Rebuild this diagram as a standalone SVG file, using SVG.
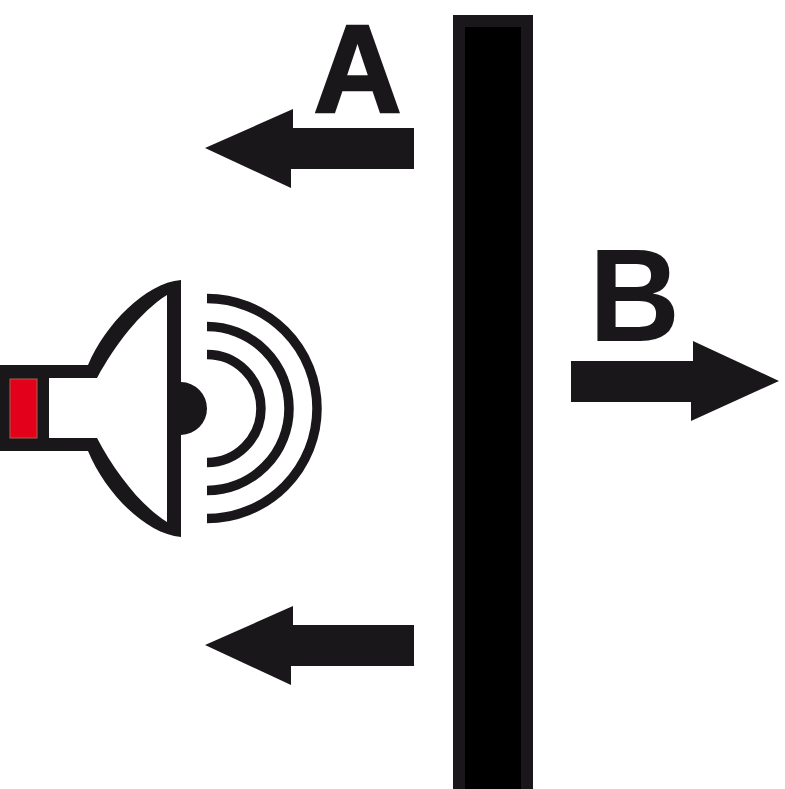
<svg xmlns="http://www.w3.org/2000/svg" width="785" height="789" viewBox="0 0 785 789">
<style>
.ink{fill:#1a171b}
.wave{fill:none;stroke:#1a171b;stroke-width:9.5}
.label{font-family:"Liberation Sans",Arial,sans-serif;font-weight:700;fill:#1a171b}
</style>
<rect width="785" height="789" fill="#fff"/>
<g id="wall">
<rect class="ink" x="453" y="15" width="80" height="774"/>
<rect x="465" y="27" width="56" height="762" fill="#000"/>
</g>
<g id="speaker">
<path class="ink" d="M0 365H88C105 325 145 283 181 280V382A26.500 26.500 0 0 1 207 408.500A26.500 26.500 0 0 1 181 435V537C145 534 105 492 88 451H0Z"/>
<path fill="#fff" d="M49 378H97C115 345 140 312 167 295V522C140 505 115 472 97 438H49Z"/>
<rect x="10" y="379" width="27" height="59" fill="#e2001a" stroke="#a8604f" stroke-width="1"/>
<path class="wave" d="M207 354.500A54 54 0 0 1 207 462.500"/>
<path class="wave" d="M207 326.500A82 82 0 0 1 207 490.500"/>
<path class="wave" d="M207 298.500A110 110 0 0 1 207 518.500"/>
</g>
<g id="label-a"><text class="label" x="313.500" y="112" font-size="123.500" stroke="#1a171b" stroke-width="2.500" textLength="88" lengthAdjust="spacingAndGlyphs">A</text></g>
<g id="label-b"><text class="label" x="589" y="341" font-size="131" textLength="91" lengthAdjust="spacingAndGlyphs">B</text></g>
<g id="connectors">
<path class="ink" d="M205 148L293 109V128H414V169H291V188Z"/>
<path class="ink" d="M205 645L293 606V625H414V666H291V685Z"/>
<path class="ink" d="M779 381L693 341V361H571V402H691V421Z"/>
</g>
</svg>
